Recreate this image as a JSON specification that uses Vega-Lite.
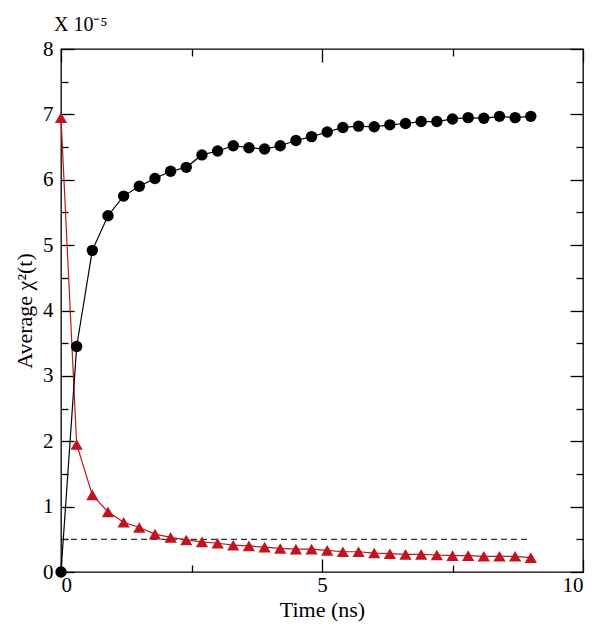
{
  "$schema": "https://vega.github.io/schema/vega-lite/v6.json",
  "width": 522,
  "height": 523,
  "autosize": {"type": "none"},
  "padding": {"left": 61, "top": 49, "right": 20, "bottom": 58},
  "background": "white",
  "config": {
    "view": {"stroke": "#000", "strokeWidth": 1.3},
    "font": "Liberation Serif",
    "axis": {
      "domain": false, "grid": false, "tickColor": "#000", "tickWidth": 1.3,
      "labelColor": "#000", "titleColor": "#000",
      "labelFont": "Liberation Serif", "titleFont": "Liberation Serif",
      "labelFontSize": 21, "titleFontSize": 22, "titleFontWeight": "normal"
    }
  },
  "title": {"text": "X 10⁻⁵", "anchor": "start", "frame": "group", "fontSize": 20, "fontWeight": "normal", "font": "Liberation Serif", "offset": 3, "dx": -7, "color": "#000"},
  "datasets": {
    "black": [
      {"t": 0.0, "v": 0.0}, {"t": 0.3, "v": 3.45}, {"t": 0.6, "v": 4.92}, {"t": 0.9, "v": 5.45},
      {"t": 1.2, "v": 5.75}, {"t": 1.5, "v": 5.9}, {"t": 1.8, "v": 6.02}, {"t": 2.1, "v": 6.13},
      {"t": 2.4, "v": 6.19}, {"t": 2.7, "v": 6.38}, {"t": 3.0, "v": 6.44}, {"t": 3.3, "v": 6.52},
      {"t": 3.6, "v": 6.49}, {"t": 3.9, "v": 6.47}, {"t": 4.2, "v": 6.52}, {"t": 4.5, "v": 6.6},
      {"t": 4.8, "v": 6.66}, {"t": 5.1, "v": 6.73}, {"t": 5.4, "v": 6.8}, {"t": 5.7, "v": 6.82},
      {"t": 6.0, "v": 6.81}, {"t": 6.3, "v": 6.84}, {"t": 6.6, "v": 6.86}, {"t": 6.9, "v": 6.89},
      {"t": 7.2, "v": 6.89}, {"t": 7.5, "v": 6.93}, {"t": 7.8, "v": 6.95}, {"t": 8.1, "v": 6.94},
      {"t": 8.4, "v": 6.97}, {"t": 8.7, "v": 6.95}, {"t": 9.0, "v": 6.97}
    ],
    "red": [
      {"t": 0.0, "v": 6.95}, {"t": 0.3, "v": 1.95}, {"t": 0.6, "v": 1.18}, {"t": 0.9, "v": 0.92},
      {"t": 1.2, "v": 0.76}, {"t": 1.5, "v": 0.68}, {"t": 1.8, "v": 0.58}, {"t": 2.1, "v": 0.53},
      {"t": 2.4, "v": 0.49}, {"t": 2.7, "v": 0.46}, {"t": 3.0, "v": 0.44}, {"t": 3.3, "v": 0.41},
      {"t": 3.6, "v": 0.4}, {"t": 3.9, "v": 0.38}, {"t": 4.2, "v": 0.36}, {"t": 4.5, "v": 0.35},
      {"t": 4.8, "v": 0.35}, {"t": 5.1, "v": 0.33}, {"t": 5.4, "v": 0.31}, {"t": 5.7, "v": 0.31},
      {"t": 6.0, "v": 0.29}, {"t": 6.3, "v": 0.28}, {"t": 6.6, "v": 0.27}, {"t": 6.9, "v": 0.27},
      {"t": 7.2, "v": 0.26}, {"t": 7.5, "v": 0.25}, {"t": 7.8, "v": 0.25}, {"t": 8.1, "v": 0.24},
      {"t": 8.4, "v": 0.24}, {"t": 8.7, "v": 0.24}, {"t": 9.0, "v": 0.22}
    ]
  },
  "layer": [
    {
      "data": {"values": [{"a": 0, "b": 9, "y": 0.5}]},
      "mark": {"type": "rule", "color": "#333", "strokeWidth": 1.2, "strokeDash": [6, 4]},
      "encoding": {
        "x": {"field": "a", "type": "quantitative", "scale": {"domain": [0, 10], "nice": false}, "axis": {"orient": "bottom", "values": [2.5, 7.5], "tickSize": -7, "labels": false, "title": null}},
        "x2": {"field": "b"},
        "y": {"field": "y", "type": "quantitative", "scale": {"domain": [0, 8], "nice": false}, "axis": {"orient": "left", "values": [0.5, 1.5, 2.5, 3.5, 4.5, 5.5, 6.5, 7.5], "tickSize": -7, "labels": false, "title": null}}
      }
    },
    {
      "data": {"name": "red"},
      "mark": {"type": "line", "color": "#c0141e", "strokeWidth": 1.2},
      "encoding": {
        "x": {"field": "t", "type": "quantitative", "axis": {"orient": "top", "values": [2.5, 7.5], "tickSize": -7, "labels": false, "title": null}},
        "y": {"field": "v", "type": "quantitative", "axis": {"orient": "right", "values": [0.5, 1.5, 2.5, 3.5, 4.5, 5.5, 6.5, 7.5], "tickSize": -7, "labels": false, "title": null}}
      }
    },
    {
      "data": {"name": "red"},
      "mark": {"type": "point", "shape": "triangle-up", "filled": true, "opacity": 1, "size": 150, "color": "#c0141e"},
      "encoding": {
        "x": {"field": "t", "type": "quantitative", "axis": {"orient": "top", "values": [0, 5, 10], "tickSize": -13, "labels": false, "title": null}},
        "y": {"field": "v", "type": "quantitative", "axis": {"orient": "right", "values": [0, 1, 2, 3, 4, 5, 6, 7, 8], "tickSize": -13, "labels": false, "title": null}}
      }
    },
    {
      "data": {"name": "black"},
      "mark": {"type": "line", "color": "#000", "strokeWidth": 1.2},
      "encoding": {
        "x": {"field": "t", "type": "quantitative", "axis": {"orient": "bottom", "values": [0, 5, 10], "tickSize": -13, "labelPadding": 15, "title": "Time (ns)", "titlePadding": 4}},
        "y": {"field": "v", "type": "quantitative", "axis": {"orient": "left", "values": [0, 1, 2, 3, 4, 5, 6, 7, 8], "tickSize": -13, "labelPadding": 21, "title": "Average χ²(t)", "titlePadding": 6}}
      }
    },
    {
      "data": {"name": "black"},
      "mark": {"type": "circle", "color": "#000", "opacity": 1, "size": 130},
      "encoding": {
        "x": {"field": "t", "type": "quantitative", "axis": null},
        "y": {"field": "v", "type": "quantitative", "axis": null}
      }
    }
  ],
  "resolve": {"axis": {"x": "independent", "y": "independent"}}
}
